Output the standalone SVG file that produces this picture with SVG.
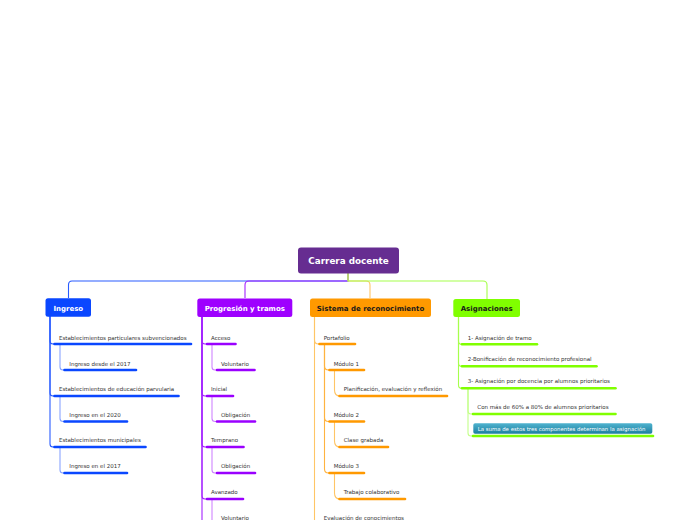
<svg xmlns="http://www.w3.org/2000/svg" width="696" height="520" viewBox="0 0 696 520">
<style>
.t{font-family:"DejaVu Sans","Verdana",sans-serif;font-size:5.5px;fill:#333}
.b{font-family:"DejaVu Sans","Verdana",sans-serif;font-size:7px;font-weight:bold;text-anchor:middle}
.c{fill:none;stroke-width:1.1}
.u{fill:none;stroke-width:2.6;stroke-linecap:round}
.bl{stroke:#2a5cff}.bl2{stroke:#8aa5ff}.ub{stroke:#0a47ff}
.pu{stroke:#a424ff}.pu2{stroke:#cf85ff}.up{stroke:#9a00ff}
.or{stroke:#ffc566}.or2{stroke:#ffb340}.uo{stroke:#ff9900}
.gr{stroke:#a6ff4d}.gr2{stroke:#c4ff8a}.ug{stroke:#80ff00}
</style>
<defs>
<linearGradient id="teal" x1="0" y1="0" x2="0" y2="1">
<stop offset="0" stop-color="#4fb3cf"/>
<stop offset="1" stop-color="#1c7fa0"/>
</linearGradient>
</defs>
<rect width="696" height="520" fill="#fff"/>

<g id="connectors">
<path class="c bl" d="M348 273 V281 H72 Q68.5 281 68.5 285 V298"/>
<path class="c pu" d="M348 273 V281 H249 Q245 281 245 285 V298"/>
<path class="c or" d="M348 273 V281 H366 Q370 281 370 285 V298"/>
<path class="c gr" d="M348 273 V281 H483 Q487 281 487 285 V299"/>

<path class="c bl" d="M50 316 V341 Q50 344 53 344 H55"/>
<path class="c bl" d="M50 316 V393 Q50 396 53 396 H55"/>
<path class="c bl" d="M50 316 V444 Q50 447 53 447 H55"/>
<path class="c bl2" d="M60 344 V367 Q60 370 63 370 H65"/>
<path class="c bl2" d="M60 396 V418.5 Q60 421.5 63 421.5 H65"/>
<path class="c bl2" d="M60 447 V470 Q60 473 63 473 H65"/>

<path class="c pu" d="M202 317 V525"/>
<path class="c pu" d="M202 317 V341 Q202 344 205 344 H207"/>
<path class="c pu" d="M202 317 V393 Q202 396 205 396 H207"/>
<path class="c pu" d="M202 317 V444 Q202 447 205 447 H207"/>
<path class="c pu" d="M202 317 V496 Q202 499 205 499 H207"/>
<path class="c pu2" d="M212 344 V367 Q212 370 215 370 H217"/>
<path class="c pu2" d="M212 396 V418.5 Q212 421.5 215 421.5 H217"/>
<path class="c pu2" d="M212 447 V470 Q212 473 215 473 H217"/>
<path class="c pu2" d="M212 499 V525"/>

<path class="c or" d="M314.5 317 V525"/>
<path class="c or" d="M314.5 317 V340 Q314.5 344 318.5 344 H320"/>
<path class="c or2" d="M324.5 344 V366 Q324.5 370 328.5 370 H330"/>
<path class="c or2" d="M324.5 344 V417.5 Q324.5 421.5 328.5 421.5 H330"/>
<path class="c or2" d="M324.5 344 V469 Q324.5 473 328.5 473 H330"/>
<path class="c or" d="M334.5 370 V390 Q334.5 396 340 396"/>
<path class="c or" d="M334.5 421.5 V441 Q334.5 447 340 447"/>
<path class="c or" d="M334.5 473 V493 Q334.5 499 340 499"/>

<path class="c gr" d="M458.5 317 V341 Q458.5 344.3 461.5 344.3 H463"/>
<path class="c gr" d="M458.5 317 V363 Q458.5 366.3 461.5 366.3 H463"/>
<path class="c gr" d="M458.5 317 V385 Q458.5 388.3 461.5 388.3 H463"/>
<path class="c gr2" d="M468 388.3 V411 Q468 414 471 414 H473"/>
<path class="c gr2" d="M468 388.3 V433 Q468 436 471 436 H473"/>
</g>

<g id="root">
<rect x="298" y="247.5" width="101" height="26" rx="3" fill="#662d91"/>
<text x="348.5" y="264" font-family="DejaVu Sans, Verdana, sans-serif" font-size="8.8" font-weight="bold" fill="#fff" text-anchor="middle">Carrera docente</text>
</g>

<g id="ingreso">
<rect x="45.5" y="298.3" width="45.5" height="18.5" rx="2.5" fill="#0a47ff"/>
<text class="b" x="68.3" y="310.5" fill="#fff">Ingreso</text>
</g>
<g id="ingreso-1">
<text class="t" x="59" y="339.5">Establecimientos particulares subvencionados</text>
<path class="u ub" d="M54.5 344 H191"/>
</g>
<g id="ingreso-1-1">
<text class="t" x="69.3" y="365.5">Ingreso desde el 2017</text>
<path class="u ub" d="M64.5 370 H136"/>
</g>
<g id="ingreso-2">
<text class="t" x="59" y="391">Establecimientos de educación parvularia</text>
<path class="u ub" d="M54.5 396 H178.5"/>
</g>
<g id="ingreso-2-1">
<text class="t" x="69.3" y="416.8">Ingreso en el 2020</text>
<path class="u ub" d="M64.5 421.5 H127"/>
</g>
<g id="ingreso-3">
<text class="t" x="59" y="442.3">Establecimientos municipales</text>
<path class="u ub" d="M54.5 447 H145.5"/>
</g>
<g id="ingreso-3-1">
<text class="t" x="69.3" y="468.2">Ingreso en el 2017</text>
<path class="u ub" d="M64.5 473 H127"/>
</g>

<g id="progresion">
<rect x="197.3" y="298.5" width="95" height="18.5" rx="2.5" fill="#9e00ff"/>
<text class="b" x="244.8" y="310.8" fill="#fff">Progresión y tramos</text>
</g>
<g id="prog-acceso">
<text class="t" x="211" y="339.5">Acceso</text>
<path class="u up" d="M207 344 H235.5"/>
</g>
<g id="prog-acceso-1">
<text class="t" x="221" y="365.5">Voluntario</text>
<path class="u up" d="M217 370 H254.5"/>
</g>
<g id="prog-inicial">
<text class="t" x="211" y="391">Inicial</text>
<path class="u up" d="M207 396 H233"/>
</g>
<g id="prog-inicial-1">
<text class="t" x="221" y="416.8">Obligación</text>
<path class="u up" d="M217 421.5 H255"/>
</g>
<g id="prog-temprano">
<text class="t" x="211" y="442.3">Temprano</text>
<path class="u up" d="M207 447 H243.5"/>
</g>
<g id="prog-temprano-1">
<text class="t" x="221" y="468.2">Obligación</text>
<path class="u up" d="M217 473 H255"/>
</g>
<g id="prog-avanzado">
<text class="t" x="211" y="494">Avanzado</text>
<path class="u up" d="M207 499 H243"/>
</g>
<g id="prog-avanzado-1">
<text class="t" x="221" y="520">Voluntario</text>
</g>

<g id="sistema">
<rect x="310" y="298.5" width="121" height="18.5" rx="2.5" fill="#ff9900"/>
<text class="b" x="370.5" y="310.8" fill="#1a1a1a">Sistema de reconocimiento</text>
</g>
<g id="sis-portafolio">
<text class="t" x="323.7" y="339.5">Portafolio</text>
<path class="u uo" d="M319.5 344 H355"/>
</g>
<g id="sis-modulo1">
<text class="t" x="333.7" y="365.5">Módulo 1</text>
<path class="u uo" d="M329.5 370 H364"/>
</g>
<g id="sis-modulo1-1">
<text class="t" x="343.7" y="391">Planificación, evaluación y reflexión</text>
<path class="u uo" d="M339.5 396 H447"/>
</g>
<g id="sis-modulo2">
<text class="t" x="333.7" y="416.8">Módulo 2</text>
<path class="u uo" d="M329.5 421.5 H364"/>
</g>
<g id="sis-modulo2-1">
<text class="t" x="343.7" y="442.3">Clase grabada</text>
<path class="u uo" d="M339.5 447 H388"/>
</g>
<g id="sis-modulo3">
<text class="t" x="333.7" y="468.2">Módulo 3</text>
<path class="u uo" d="M329.5 473 H364"/>
</g>
<g id="sis-modulo3-1">
<text class="t" x="343.7" y="494">Trabajo colaborativo</text>
<path class="u uo" d="M339.5 499 H405"/>
</g>
<g id="sis-evaluacion">
<text class="t" x="323.7" y="519.5">Evaluación de conocimientos</text>
</g>

<g id="asignaciones">
<rect x="453.3" y="299" width="66.7" height="18" rx="2.5" fill="#80ff00"/>
<text class="b" x="486.7" y="311" fill="#1a1a1a">Asignaciones</text>
</g>
<g id="asig-1">
<text class="t" x="467.7" y="339.5">1- Asignación de tramo</text>
<path class="u ug" d="M462 344.3 H537"/>
</g>
<g id="asig-2">
<text class="t" x="467.7" y="361.3">2-Bonificación de reconocimiento profesional</text>
<path class="u ug" d="M462 366.3 H596.5"/>
</g>
<g id="asig-3">
<text class="t" x="467.7" y="383.3">3- Asignación por docencia por alumnos prioritarios</text>
<path class="u ug" d="M462 388.3 H615.5"/>
</g>
<g id="asig-3-1">
<text class="t" x="477.3" y="409.3">Con más de 60% a 80% de alumnos prioritarios</text>
<path class="u ug" d="M473 414 H615.5"/>
</g>
<g id="asig-3-2">
<rect x="473.3" y="423.3" width="179" height="10.5" rx="1.8" fill="url(#teal)"/>
<text x="477.7" y="430.6" font-family="DejaVu Sans, Verdana, sans-serif" font-size="5.4" fill="#fff">La suma de estos tres componentes determinan la asignación</text>
<path class="u ug" d="M473 436 H653"/>
</g>
</svg>
